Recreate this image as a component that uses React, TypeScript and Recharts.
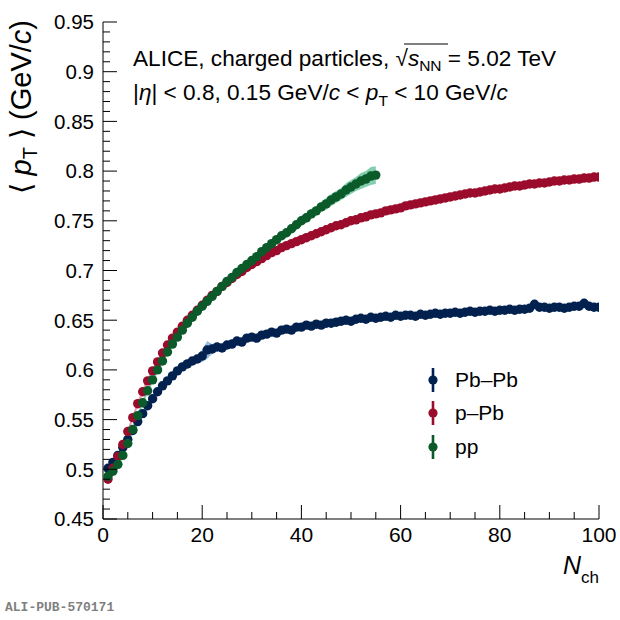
import React from "react";
import { ComposedChart, Line, Area, XAxis, YAxis, Legend } from "recharts";

// multiplicity bins
const nch = Array.from({ length: 100 }, (_, i) => i + 1);

// <pT> values
const pbpb = [
  0.501, 0.507, 0.514, 0.522, 0.53, 0.539, 0.548, 0.556, 0.564, 0.571,
  0.578, 0.584, 0.589, 0.594, 0.599, 0.603, 0.606, 0.609, 0.611, 0.614,
  0.62, 0.621, 0.623, 0.622, 0.625, 0.626, 0.629, 0.628, 0.632, 0.633,
  0.632, 0.635, 0.636, 0.638, 0.637, 0.64, 0.641, 0.64, 0.643, 0.643,
  0.645, 0.644, 0.646, 0.645, 0.647, 0.647, 0.648, 0.649, 0.65, 0.649,
  0.651, 0.652, 0.651, 0.653, 0.652, 0.653, 0.654, 0.653, 0.655, 0.654,
  0.655, 0.655, 0.654, 0.656, 0.655, 0.656, 0.657, 0.656, 0.657, 0.657,
  0.658, 0.657, 0.658, 0.659, 0.658, 0.659, 0.659, 0.66, 0.659, 0.66,
  0.66, 0.661, 0.66, 0.661, 0.661, 0.662, 0.666, 0.663, 0.663, 0.662,
  0.663, 0.663, 0.662, 0.663, 0.664, 0.664, 0.667, 0.664, 0.663, 0.663,
];

const ppb = [
  0.49, 0.501, 0.513, 0.525, 0.538, 0.552, 0.566, 0.578, 0.589, 0.599,
  0.608, 0.617, 0.625, 0.632, 0.638, 0.644, 0.65, 0.655, 0.66, 0.665,
  0.67, 0.675, 0.679, 0.684, 0.688, 0.692, 0.696, 0.699, 0.703, 0.706,
  0.709, 0.712, 0.715, 0.718, 0.72, 0.723, 0.725, 0.727, 0.729, 0.731,
  0.733, 0.735, 0.737, 0.739, 0.741, 0.743, 0.745, 0.746, 0.748, 0.75,
  0.751, 0.753, 0.754, 0.756, 0.757, 0.758, 0.76, 0.761, 0.762, 0.763,
  0.765, 0.766, 0.767, 0.768, 0.769, 0.77, 0.771, 0.772, 0.773, 0.774,
  0.775, 0.776, 0.777, 0.778, 0.778, 0.779, 0.78, 0.781, 0.782, 0.782,
  0.783, 0.784, 0.785, 0.785, 0.786, 0.787, 0.787, 0.788, 0.788, 0.789,
  0.79, 0.79, 0.791, 0.791, 0.792, 0.792, 0.793, 0.793, 0.794, 0.794,
];

const pp = [
  0.493, 0.498, 0.505, 0.514, 0.526, 0.54, 0.554, 0.567, 0.579, 0.59,
  0.6, 0.609, 0.618, 0.626, 0.633, 0.64, 0.647, 0.653, 0.659, 0.664,
  0.669, 0.674, 0.679, 0.684, 0.689, 0.693, 0.698, 0.702, 0.706, 0.71,
  0.714, 0.719, 0.723, 0.727, 0.731, 0.735, 0.738, 0.742, 0.746, 0.75,
  0.753, 0.757, 0.76, 0.764, 0.767, 0.771, 0.774, 0.777, 0.781, 0.784,
  0.787, 0.79, 0.792, 0.795, 0.796,
];

// systematic half-widths (bands)
const pbpbSys = [
  0.003, 0.003, 0.003, 0.003, 0.003, 0.003, 0.003, 0.003, 0.003, 0.003,
  0.003, 0.003, 0.003, 0.003, 0.003, 0.003, 0.003, 0.003, 0.004, 0.006,
  0.009, 0.005, 0.004, 0.003, 0.003, 0.003, 0.003, 0.003, 0.003, 0.003,
  0.003, 0.003, 0.003, 0.003, 0.003, 0.003, 0.003, 0.003, 0.003, 0.003,
  0.003, 0.003, 0.003, 0.003, 0.003, 0.003, 0.003, 0.003, 0.003, 0.003,
  0.003, 0.003, 0.003, 0.003, 0.003, 0.003, 0.003, 0.003, 0.003, 0.003,
  0.003, 0.003, 0.003, 0.003, 0.003, 0.003, 0.003, 0.003, 0.003, 0.003,
  0.003, 0.003, 0.003, 0.003, 0.003, 0.003, 0.003, 0.003, 0.003, 0.003,
  0.003, 0.003, 0.003, 0.003, 0.003, 0.003, 0.005, 0.003, 0.003, 0.003,
  0.003, 0.003, 0.003, 0.003, 0.003, 0.003, 0.005, 0.003, 0.003, 0.003,
];

const ppbSys = [
  0.003, 0.003, 0.003, 0.003, 0.003, 0.003, 0.003, 0.003, 0.003, 0.003,
  0.003, 0.003, 0.003, 0.003, 0.003, 0.003, 0.003, 0.003, 0.003, 0.003,
  0.003, 0.003, 0.003, 0.003, 0.003, 0.003, 0.003, 0.003, 0.003, 0.003,
  0.003, 0.003, 0.003, 0.003, 0.003, 0.003, 0.003, 0.003, 0.003, 0.003,
  0.003, 0.003, 0.003, 0.003, 0.003, 0.003, 0.003, 0.003, 0.003, 0.003,
  0.003, 0.003, 0.003, 0.003, 0.003, 0.003, 0.003, 0.003, 0.003, 0.003,
  0.003, 0.003, 0.003, 0.003, 0.003, 0.003, 0.003, 0.003, 0.003, 0.003,
  0.003, 0.003, 0.003, 0.003, 0.003, 0.003, 0.003, 0.003, 0.003, 0.003,
  0.003, 0.003, 0.003, 0.003, 0.003, 0.003, 0.003, 0.003, 0.003, 0.003,
  0.004, 0.004, 0.004, 0.004, 0.004, 0.004, 0.004, 0.004, 0.004, 0.004,
];

const ppSys = [
  0.003, 0.003, 0.003, 0.003, 0.003, 0.003, 0.003, 0.003, 0.003, 0.003,
  0.003, 0.003, 0.003, 0.003, 0.003, 0.003, 0.003, 0.003, 0.003, 0.003,
  0.003, 0.003, 0.003, 0.003, 0.003, 0.003, 0.003, 0.003, 0.003, 0.003,
  0.004, 0.004, 0.004, 0.004, 0.004, 0.004, 0.004, 0.004, 0.005, 0.005,
  0.005, 0.005, 0.005, 0.005, 0.006, 0.006, 0.006, 0.006, 0.007, 0.007,
  0.007, 0.008, 0.008, 0.009, 0.009,
];

const seriesNames = ["Pb\u2013Pb", "p\u2013Pb", "pp"];
const xTicks = [0, 5, 10, 15, 20, 25, 30, 35, 40, 45, 50, 55, 60, 65, 70, 75, 80, 85, 90, 95, 100];
const yTickLabels = ["0.45", "0.5", "0.55", "0.6", "0.65", "0.7", "0.75", "0.8", "0.85", "0.9", "0.95"];
const yTicks: number[] = [];
for (let k = 45; k <= 95; k++) yTicks.push(k / 100);

const C_PBPB = "#02214f";
const C_PPB = "#9b0b2c";
const C_PP = "#0a5a2a";
const colorOf: Record<string, string> = {
  [seriesNames[0]]: C_PBPB,
  [seriesNames[1]]: C_PPB,
  [seriesNames[2]]: C_PP,
};

const FONT = "'Liberation Sans', Arial, Helvetica, sans-serif";
const DOT_R = 4.7;

const rows = nch.map((n, i) => ({
  n,
  pbpb: pbpb[i],
  ppb: ppb[i],
  pp: i < pp.length ? pp[i] : undefined,
  pbpbBand: [pbpb[i] - pbpbSys[i], pbpb[i] + pbpbSys[i]],
  ppbBand: [ppb[i] - ppbSys[i], ppb[i] + ppbSys[i]],
  ppBand: i < pp.length ? [pp[i] - ppSys[i], pp[i] + ppSys[i]] : undefined,
}));

const isMajorX = (v: number) => v % 20 === 0;
const isMajorY = (v: number) => Math.round(v * 100) % 5 === 0;

const BottomTick = ({ x, y, payload }: any) => {
  const major = isMajorX(payload.value);
  return (
    <g>
      <line x1={x} x2={x} y1={y} y2={y - (major ? 14 : 7)} stroke="#000" />
      {major && (
        <text x={x} y={y + 23} textAnchor="middle" fontSize={21} fontFamily={FONT} fill="#000">
          {payload.value}
        </text>
      )}
    </g>
  );
};

const TopTick = ({ x, y, payload }: any) => {
  const major = isMajorX(payload.value);
  return <line x1={x} x2={x} y1={y} y2={y + (major ? 14 : 7)} stroke="#000" />;
};

const LeftTick = ({ x, y, payload }: any) => {
  const major = isMajorY(payload.value);
  const label = yTickLabels.find((s) => Math.abs(parseFloat(s) - payload.value) < 1e-6);
  return (
    <g>
      <line x1={x} x2={x + (major ? 14 : 7)} y1={y} y2={y} stroke="#000" />
      {major && label && (
        <text x={x - 9} y={y} dy="0.36em" textAnchor="end" fontSize={20.5} fontFamily={FONT} fill="#000">
          {label}
        </text>
      )}
    </g>
  );
};

const RightTick = ({ x, y, payload }: any) => {
  const major = isMajorY(payload.value);
  return <line x1={x} x2={x - (major ? 14 : 7)} y1={y} y2={y} stroke="#000" />;
};

const LegendContent = ({ payload }: any) => {
  const items = seriesNames
    .map((name) => (payload || []).find((e: any) => e.value === name))
    .filter(Boolean);
  return (
    <div>
      {items.map((e: any) => {
        const c = colorOf[e.value] || e.color;
        return (
          <div key={e.value} style={{ display: "flex", alignItems: "center", height: 33.5 }}>
            <svg width={20} height={28}>
              <line x1={10} x2={10} y1={2} y2={26} stroke={c} strokeWidth={2.6} />
              <circle cx={10} cy={14} r={4.6} fill={c} />
            </svg>
            <span style={{ marginLeft: 12, fontSize: 21, fontFamily: FONT, color: "#000" }}>{e.value}</span>
          </div>
        );
      })}
    </div>
  );
};

export default function App() {
  return (
    <div style={{ position: "absolute", left: 0, top: 0, width: 620, height: 620, background: "#fff" }}>
      <ComposedChart
        width={620}
        height={620}
        data={rows}
        margin={{ top: 22, right: 21, left: 0, bottom: 0 }}
      >
        <XAxis
          xAxisId="b"
          dataKey="n"
          type="number"
          domain={[0, 100]}
          ticks={xTicks}
          interval={0}
          height={101}
          tickSize={0}
          tickMargin={0}
          tickLine={false}
          tick={<BottomTick />}
          axisLine={{ stroke: "#000" }}
          allowDataOverflow
        />
        <XAxis
          xAxisId="t"
          orientation="top"
          dataKey="n"
          type="number"
          domain={[0, 100]}
          ticks={xTicks}
          interval={0}
          height={0}
          tickSize={0}
          tickMargin={0}
          tickLine={false}
          tick={<TopTick />}
          axisLine={{ stroke: "#000" }}
          allowDataOverflow
        />
        <YAxis
          yAxisId="l"
          type="number"
          domain={[0.45, 0.95]}
          ticks={yTicks}
          interval={0}
          width={103}
          tickSize={0}
          tickMargin={0}
          tickLine={false}
          tick={<LeftTick />}
          axisLine={{ stroke: "#000" }}
          allowDataOverflow
        />
        <YAxis
          yAxisId="r"
          orientation="right"
          type="number"
          domain={[0.45, 0.95]}
          ticks={yTicks}
          interval={0}
          width={0}
          tickSize={0}
          tickMargin={0}
          tickLine={false}
          tick={<RightTick />}
          axisLine={{ stroke: "#000" }}
          allowDataOverflow
        />
        <Area xAxisId="b" yAxisId="l" dataKey="ppbBand" type="linear" stroke="none" fill="#e8849c" fillOpacity={0.8} legendType="none" isAnimationActive={false} />
        <Area xAxisId="b" yAxisId="l" dataKey="pbpbBand" type="linear" stroke="none" fill="#7fb2d5" fillOpacity={0.85} legendType="none" isAnimationActive={false} />
        <Area xAxisId="b" yAxisId="l" dataKey="ppBand" type="linear" stroke="none" fill="#6fc4a0" fillOpacity={0.85} legendType="none" isAnimationActive={false} />
        <Line xAxisId="b" yAxisId="l" dataKey="pbpb" name={seriesNames[0]} stroke="none" dot={{ r: DOT_R, fill: C_PBPB, stroke: "none" }} activeDot={false} isAnimationActive={false} />
        <Line xAxisId="b" yAxisId="l" dataKey="ppb" name={seriesNames[1]} stroke="none" dot={{ r: DOT_R, fill: C_PPB, stroke: "none" }} activeDot={false} isAnimationActive={false} />
        <Line xAxisId="b" yAxisId="l" dataKey="pp" name={seriesNames[2]} stroke="none" dot={{ r: DOT_R, fill: C_PP, stroke: "none" }} activeDot={false} isAnimationActive={false} />
        <Legend
          layout="vertical"
          align="center"
          verticalAlign="middle"
          content={<LegendContent />}
          wrapperStyle={{ position: "absolute", left: 423, top: 363, width: 170, height: 105 }}
        />
      </ComposedChart>
      <svg
        width={620}
        height={620}
        style={{ position: "absolute", left: 0, top: 0, pointerEvents: "none" }}
        fontFamily={FONT}
      >
        <text x={133} y={66} fontSize={22.6} fill="#000">
          ALICE, charged particles, √<tspan fontStyle="italic">s</tspan>
          <tspan fontSize={15.5} dy={5}>NN</tspan>
          <tspan dy={-5}> = 5.02 TeV</tspan>
        </text>
        <line x1={404} x2={448} y1={44} y2={44} stroke="#000" strokeWidth={1} />
        <text x={133} y={100} fontSize={22.6} fill="#000">
          |<tspan fontStyle="italic">η</tspan>| &lt; 0.8, 0.15 GeV/<tspan fontStyle="italic">c</tspan> &lt;{" "}
          <tspan fontStyle="italic">p</tspan>
          <tspan fontSize={15.5} dy={6}>T</tspan>
          <tspan dy={-6}> &lt; 10 GeV/</tspan>
          <tspan fontStyle="italic">c</tspan>
        </text>
        <text transform="translate(31,20) rotate(-90)" textAnchor="end" fontSize={29} fill="#000">
          ⟨ <tspan fontStyle="italic">p</tspan>
          <tspan fontSize={20} dy={6}>T</tspan>
          <tspan dy={-6}> ⟩ (GeV/</tspan>
          <tspan fontStyle="italic">c</tspan>)
        </text>
        <text x={599} y={574} textAnchor="end" fontSize={25} fill="#000">
          <tspan fontStyle="italic">N</tspan>
          <tspan fontSize={17} dy={9}>ch</tspan>
        </text>
        <text x={5} y={611} fontSize={13} fontWeight="bold" fill="#808080" fontFamily="'Liberation Mono', 'DejaVu Sans Mono', monospace">
          ALI-PUB-570171
        </text>
      </svg>
    </div>
  );
}
